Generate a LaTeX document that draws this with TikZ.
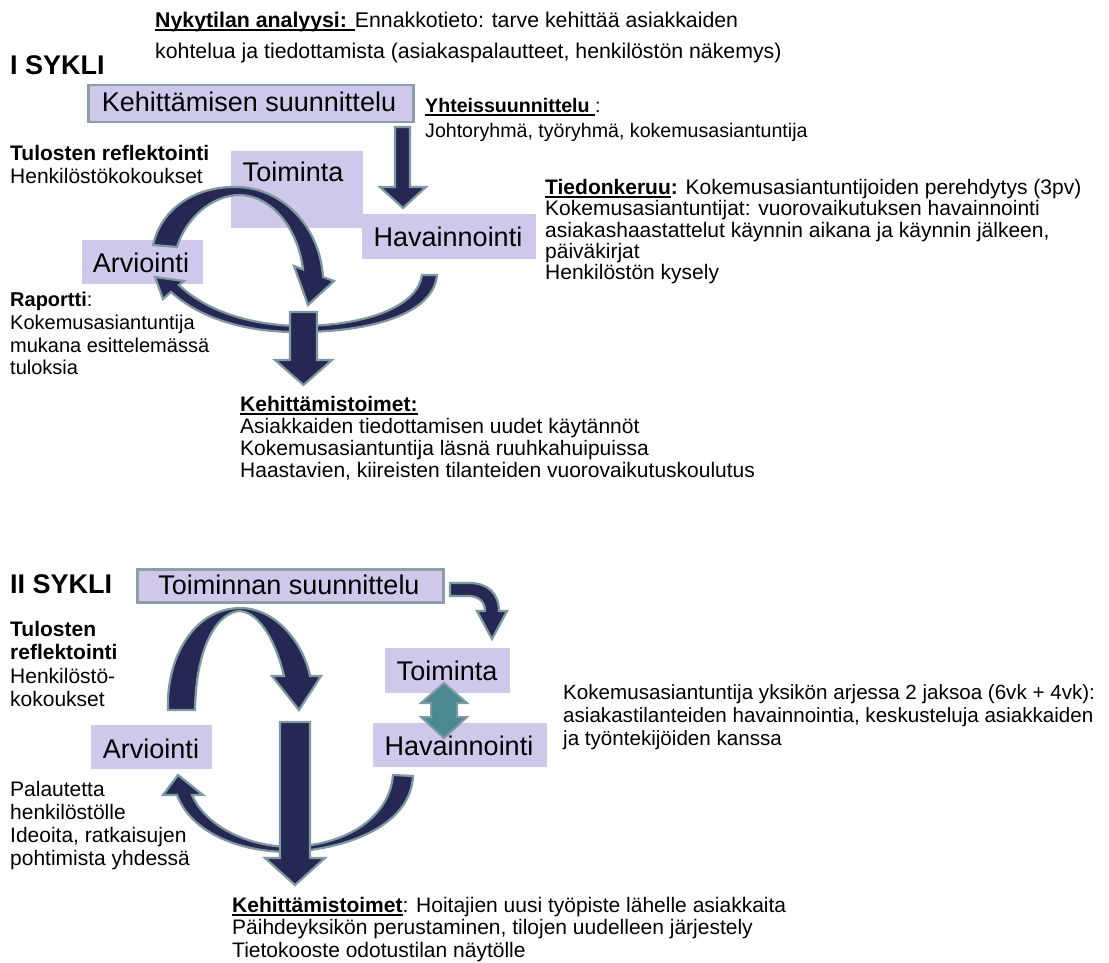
\documentclass[tikz,border=0pt]{standalone}
\usepackage{fontspec}
\setmainfont{Liberation Sans}
\definecolor{lav}{RGB}{207,200,234}
\definecolor{rim}{RGB}{138,160,166}
\definecolor{navy}{RGB}{38,40,84}
\definecolor{arrowrim}{RGB}{126,154,160}
\definecolor{tealfill}{RGB}{74,137,143}
% underline drawn as a rule under a box of text
\newcommand\ulx[1]{\setbox0\hbox{#1}\rlap{\rule[-3.2pt]{\wd0}{1.7pt}}\box0}
\tikzset{
  txt/.style={anchor=north west, inner sep=0pt, align=left,
    font=\fontsize{21}{22}\selectfont},
  cyc/.style={anchor=base west, inner sep=0pt, font=\fontsize{27}{30}\selectfont\bfseries},
  boxlabel/.style={anchor=base, inner sep=0pt, font=\fontsize{27}{30}\selectfont},
  plainbox/.style={fill=lav, inner sep=0pt, anchor=north west},
  titlebox/.style={plainbox, draw=rim, line width=2.5pt},
  navyarrow/.style={fill=navy, draw=arrowrim, line width=2.2pt, line join=miter},
  tealarrow/.style={fill=tealfill, draw=arrowrim, line width=2pt, line join=miter},
}
\begin{document}
\begin{tikzpicture}[x=1pt,y=-1pt]
\useasboundingbox (0,0) rectangle (1109,963);

% ---------- first cycle ----------
\node[txt, font=\fontsize{21.3}{31}\selectfont] (analyysi) at (155,12)
  {\ulx{\textbf{Nykytilan analyysi: }}Ennakkotieto: tarve kehittää asiakkaiden\\
   kohtelua ja tiedottamista (asiakaspalautteet, henkilöstön näkemys)};
\node[cyc] (sykli1) at (10,75) {I SYKLI};

\node[titlebox, minimum width=325pt, minimum height=37pt] (suunA) at (87,84) {};
\node[boxlabel] (suunAt) at (249,112) {Kehittämisen suunnittelu};

\node[txt, font=\fontsize{19.6}{25}\selectfont] (yhteis) at (425,98)
  {\ulx{\textbf{Yhteissuunnittelu }}:\\ Johtoryhmä, työryhmä, kokemusasiantuntija};
\node[txt, font=\fontsize{21}{23}\selectfont] (reflA) at (10,145)
  {\textbf{Tulosten reflektointi}\\ Henkilöstökokoukset};
\node[txt, font=\fontsize{21}{21.3}\selectfont] (tiedon) at (545,179)
  {\ulx{\textbf{Tiedonkeruu}}\textbf{:} Kokemusasiantuntijoiden perehdytys (3pv)\\
   Kokemusasiantuntijat: vuorovaikutuksen havainnointi\\
   asiakashaastattelut käynnin aikana ja käynnin jälkeen,\\
   päiväkirjat\\
   Henkilöstön kysely};
\node[txt, font=\fontsize{20}{22.7}\selectfont] (raportti) at (10,292)
  {\textbf{Raportti}:\\ Kokemusasiantuntija\\ mukana esittelemässä\\ tuloksia};
\node[txt] (toimetA) at (240,396)
  {\ulx{\textbf{Kehittämistoimet:}}\\
   Asiakkaiden tiedottamisen uudet käytännöt\\
   Kokemusasiantuntija läsnä ruuhkahuipuissa\\
   Haastavien, kiireisten tilanteiden vuorovaikutuskoulutus};

\node[plainbox, minimum width=132pt, minimum height=77pt] (toimA) at (231,151) {};
\node[boxlabel] (toimAt) at (293,182) {Toiminta};
\node[plainbox, minimum width=174pt, minimum height=45pt] (havA) at (362,214) {};
\node[boxlabel] (havAt) at (448,246) {Havainnointi};
\node[plainbox, minimum width=121pt, minimum height=44pt] (arvA) at (82,240) {};
\node[boxlabel] (arvAt) at (141,272) {Arviointi};

% planning -> observation
\draw[navyarrow] (395,127) -- (410,127) -- (410,187) -- (426,187) -- (403,208)
  -- (380,187) -- (395,187) -- cycle;
% evaluation -> action (arc over the top)
\draw[navyarrow] (153,245) .. controls (162,206) and (198,186) .. (237,187)
  .. controls (284,188) and (320,228) .. (323,277) -- (334,281) -- (308,305)
  -- (294,266) -- (303,269.5) .. controls (298,228) and (272,196) .. (240,195)
  .. controls (212,195) and (186,218) .. (177,247) -- cycle;
% observation -> evaluation (arc underneath)
\draw[navyarrow] (422,275) -- (437,275) .. controls (434,310) and (382,331) .. (303,332)
  .. controls (245,333) and (200,318) .. (171,292) -- (163,299) -- (155,277)
  -- (184,281) -- (179,285) .. controls (205,310) and (250,326) .. (303,326)
  .. controls (370,325) and (418,305) .. (422,275) -- cycle;
% down to development measures
\draw[navyarrow] (290,312) -- (317,312) -- (317,360) -- (332,360) -- (303.5,385)
  -- (275,360) -- (290,360) -- cycle;

% ---------- second cycle ----------
\node[cyc] (sykli2) at (10,593) {II SYKLI};
\node[titlebox, minimum width=306pt, minimum height=33pt] (suunB) at (136,568) {};
\node[boxlabel] (suunBt) at (289,594) {Toiminnan suunnittelu};

\node[txt, font=\fontsize{21}{23.3}\selectfont] (reflB) at (10,621)
  {\textbf{Tulosten}\\ \textbf{reflektointi}\\ Henkilöstö-\\ kokoukset};
\node[txt, font=\fontsize{20.6}{23}\selectfont] (jaksot) at (563,684)
  {Kokemusasiantuntija yksikön arjessa 2 jaksoa (6vk + 4vk):\\
   asiakastilanteiden havainnointia, keskusteluja asiakkaiden\\
   ja työntekijöiden kanssa};
\node[txt, font=\fontsize{21}{23}\selectfont] (palaute) at (10,781)
  {Palautetta\\ henkilöstölle\\ Ideoita, ratkaisujen\\ pohtimista yhdessä};
\node[txt, font=\fontsize{21}{22.5}\selectfont] (toimetB) at (232,897)
  {\ulx{\textbf{Kehittämistoimet}}: Hoitajien uusi työpiste lähelle asiakkaita\\
   Päihdeyksikön perustaminen, tilojen uudelleen järjestely\\
   Tietokooste odotustilan näytölle};

\node[plainbox, minimum width=125pt, minimum height=45pt] (toimB) at (385,648) {};
\node[boxlabel] (toimBt) at (447,680) {Toiminta};
\node[plainbox, minimum width=174pt, minimum height=44pt] (havB) at (373,723) {};
\node[boxlabel] (havBt) at (459,755) {Havainnointi};
\node[plainbox, minimum width=121pt, minimum height=44pt] (arvB) at (91,725) {};
\node[boxlabel] (arvBt) at (151,758) {Arviointi};

% planning -> action (small turn)
\draw[navyarrow] (450,583) -- (470,583) .. controls (488,583) and (499,594) .. (499,611)
  -- (507,611) -- (492,639) -- (477,611) -- (485,611)
  .. controls (485,602) and (479,596) .. (468,596) -- (450,596) -- cycle;
% action <-> observation
\draw[tealarrow] (444,683) -- (467,703) -- (457,703) -- (457,717) -- (467,717)
  -- (444,738) -- (421,717) -- (431,717) -- (431,703) -- (421,703) -- cycle;
% evaluation -> planning (arc over the top)
\draw[navyarrow] (168,710) .. controls (166,660) and (192,609) .. (240,608)
  .. controls (277,608) and (304,645) .. (310,676) -- (321,676) -- (299,710)
  -- (272,676) -- (284,676) .. controls (276,642) and (260,613) .. (240,611)
  .. controls (218,612) and (196,645) .. (195,710) -- cycle;
% observation -> evaluation (arc underneath)
\draw[navyarrow] (393,775) -- (413,776) .. controls (411,822) and (355,848) .. (290,852)
  .. controls (235,852) and (190,830) .. (177,795) -- (163,795) -- (178,775)
  -- (203,795) -- (192,795) .. controls (205,825) and (245,846) .. (290,847)
  .. controls (350,845) and (390,815) .. (393,775) -- cycle;
% down to development measures
\draw[navyarrow] (280,722) -- (310,722) -- (310,858) -- (325,858) -- (295,885)
  -- (265,858) -- (280,858) -- cycle;
\end{tikzpicture}
\end{document}
